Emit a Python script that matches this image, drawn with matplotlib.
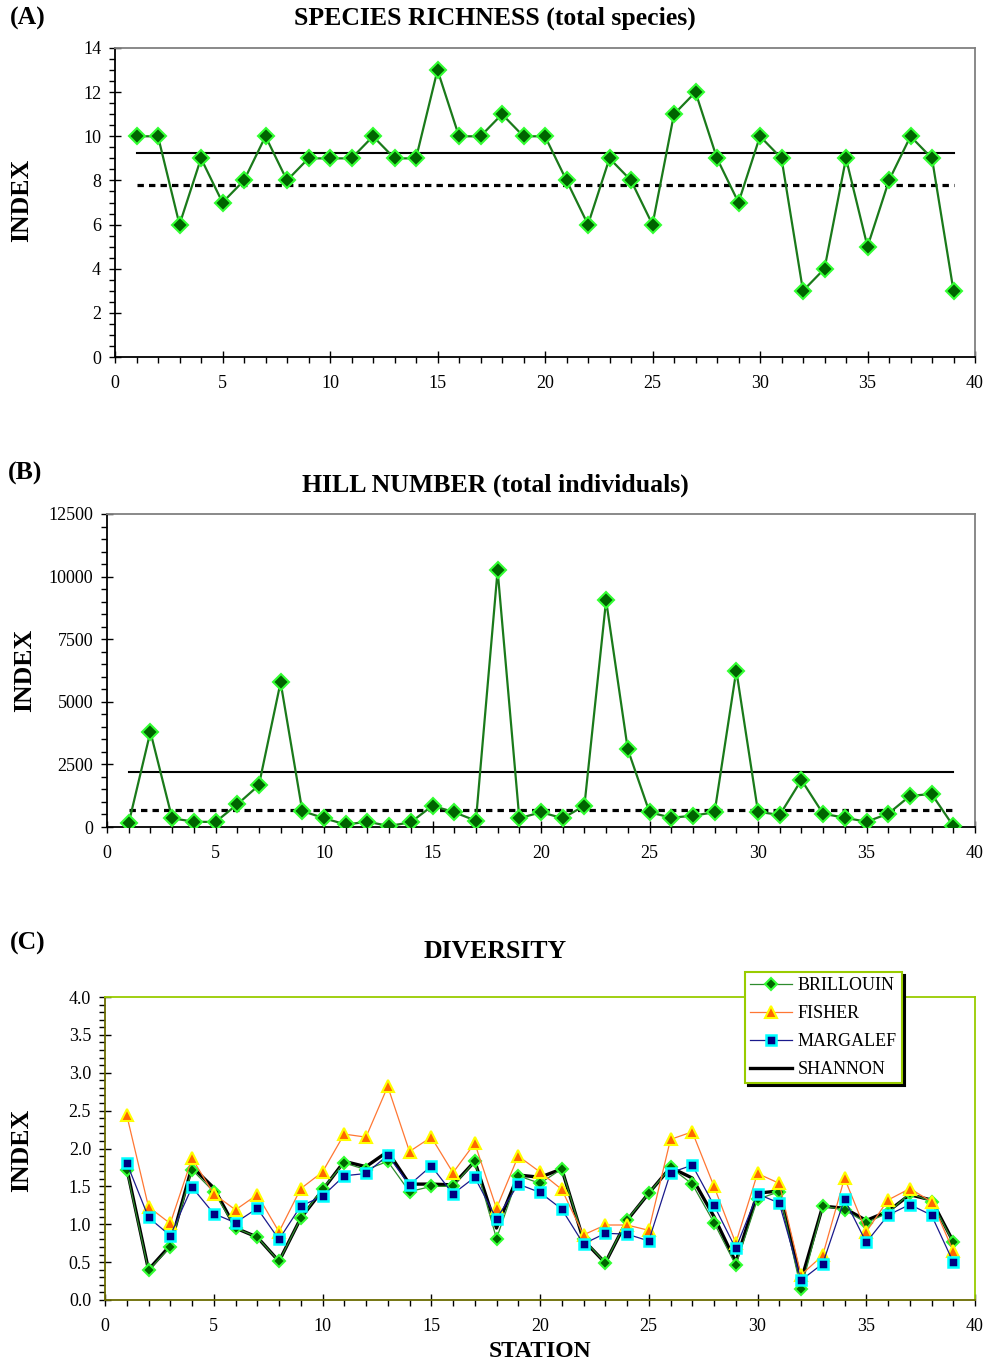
import numpy as np
import matplotlib
matplotlib.use('Agg')
import matplotlib.pyplot as plt
from matplotlib.ticker import MultipleLocator, FormatStrFormatter

plt.rcParams['font.family'] = ['Liberation Serif', 'DejaVu Serif']
plt.rcParams['font.size'] = 13

# 数据
stations = list(range(1, 40))
richness = [10, 10, 6, 9, 7, 8, 10, 8, 9, 9, 9, 10, 9, 9, 13, 10, 10, 11, 10, 10,
            8, 6, 9, 8, 6, 11, 12, 9, 7, 10, 9, 3, 4, 9, 5, 8, 10, 9, 3]
richness_mean = 9.25
richness_ref = 7.8

individuals = [150, 3800, 350, 210, 200, 900, 1670, 5780, 640, 350, 100, 210, 40, 190,
               850, 590, 250, 10250, 350, 590, 350, 850, 9050, 3100, 590, 370, 450, 590,
               6250, 610, 480, 1880, 530, 370, 210, 530, 1240, 1320, 40]
individuals_mean = 2210
individuals_ref = 670

brillouin = [1.71, 0.39, 0.70, 1.72, 1.43, 0.95, 0.83, 0.51, 1.08, 1.47, 1.81, 1.72, 1.83,
             1.43, 1.50, 1.50, 1.83, 0.81, 1.64, 1.54, 1.73, 0.80, 0.49, 1.06, 1.41, 1.75,
             1.53, 1.02, 0.46, 1.33, 1.43, 0.14, 1.24, 1.19, 1.02, 1.15, 1.41, 1.30, 0.76]
fisher = [2.44, 1.23, 1.01, 1.87, 1.40, 1.19, 1.39, 0.90, 1.47, 1.69, 2.19, 2.15, 2.82,
          1.96, 2.15, 1.68, 2.07, 1.21, 1.90, 1.69, 1.46, 0.86, 0.99, 0.99, 0.92, 2.12,
          2.22, 1.50, 0.75, 1.67, 1.54, 0.33, 0.59, 1.61, 0.90, 1.32, 1.47, 1.30, 0.65]
margalef = [1.81, 1.09, 0.85, 1.49, 1.14, 1.02, 1.21, 0.80, 1.24, 1.37, 1.64, 1.67, 1.91,
            1.52, 1.77, 1.40, 1.62, 1.07, 1.53, 1.42, 1.20, 0.74, 0.88, 0.87, 0.78, 1.68,
            1.78, 1.25, 0.68, 1.40, 1.28, 0.26, 0.48, 1.33, 0.76, 1.12, 1.26, 1.12, 0.50]
shannon = [1.74, 0.40, 0.72, 1.76, 1.48, 0.95, 0.83, 0.51, 1.08, 1.45, 1.83, 1.76, 1.96,
           1.53, 1.53, 1.52, 1.83, 0.95, 1.65, 1.62, 1.73, 0.79, 0.49, 1.05, 1.41, 1.75,
           1.61, 1.10, 0.50, 1.41, 1.44, 0.25, 1.24, 1.21, 1.05, 1.17, 1.39, 1.32, 0.77]

fig = plt.figure(figsize=(9.87, 13.66), dpi=100)
W, H = 987, 1366


def add_ax(l, t, r, b):
    return fig.add_axes([l / W, 1 - b / H, (r - l) / W, (b - t) / H])


def style_ax(ax, frame='#808080', axis='black'):
    ax.spines['top'].set_color(frame)
    ax.spines['right'].set_color(frame)
    ax.spines['left'].set_color(axis)
    ax.spines['bottom'].set_color(axis)
    for s in ax.spines.values():
        s.set_linewidth(1.3)
    ax.xaxis.set_major_locator(MultipleLocator(5))
    ax.xaxis.set_minor_locator(MultipleLocator(1))
    ax.tick_params(which='major', direction='inout', length=8, width=1, labelsize=13, pad=9)
    ax.tick_params(axis='y', which='major', pad=6)
    ax.tick_params(which='minor', direction='out', length=4, width=1)
    ax.set_xlim(0, 40)


green_kw = dict(color='#1a7a1a', lw=1.6, marker='D', ms=8.5, mfc='#006400',
                mec='#33ff33', mew=1.5, zorder=3)

# (A)
axA = add_ax(115, 48, 975, 357)
style_ax(axA)
axA.plot(stations, richness, **green_kw)
axA.plot([stations[0], stations[-1]], [richness_mean] * 2, color='black', lw=1.5, zorder=2)
axA.plot([stations[0], stations[-1]], [richness_ref] * 2, color='black', lw=2.3,
         ls=(0, (2, 1.6)), zorder=2)
axA.set_ylim(0, 14)
axA.yaxis.set_major_locator(MultipleLocator(2))
axA.yaxis.set_minor_locator(MultipleLocator(0.5))

# (B)
axB = add_ax(107, 514, 975, 827)
style_ax(axB)
axB.plot(stations, individuals, **green_kw)
axB.plot([stations[0], stations[-1]], [individuals_mean] * 2, color='black', lw=1.5, zorder=2)
axB.plot([stations[0], stations[-1]], [individuals_ref] * 2, color='black', lw=2.3,
         ls=(0, (2, 1.6)), zorder=2)
axB.set_ylim(0, 12500)
axB.yaxis.set_major_locator(MultipleLocator(2500))
axB.yaxis.set_minor_locator(MultipleLocator(500))

# (C)
axC = add_ax(105, 997, 975, 1300)
style_ax(axC, frame='#99cc00', axis='#6b6b00')
axC.plot(stations, shannon, color='black', lw=2.4, label='SHANNON', zorder=2)
axC.plot(stations, brillouin, color='#2e8b2e', lw=0.9, marker='D', ms=6.5, mfc='#006400',
         mec='#33ff33', mew=1.5, label='BRILLOUIN', zorder=3)
axC.plot(stations, fisher, color='#ff7733', lw=0.9, marker='^', ms=9, mfc='#ff6600',
         mec='#ffff00', mew=1.5, label='FISHER', zorder=3)
axC.plot(stations, margalef, color='#1a1a8c', lw=0.9, marker='s', ms=7.5, mfc='#000080',
         mec='#00ffff', mew=1.8, label='MARGALEF', zorder=4)
axC.set_ylim(0, 4)
axC.yaxis.set_major_locator(MultipleLocator(0.5))
axC.yaxis.set_minor_locator(MultipleLocator(0.1))
axC.yaxis.set_major_formatter(FormatStrFormatter('%.1f'))
axC.set_xlabel('STATION', fontsize=17, fontweight='bold', labelpad=4)

handles, labels = axC.get_legend_handles_labels()
order = [1, 2, 3, 0]
leg = axC.legend([handles[i] for i in order], [labels[i] for i in order],
                 loc='upper left', bbox_to_anchor=(745 / W, 1 - 972 / H),
                 bbox_transform=fig.transFigure, fontsize=13, frameon=True,
                 fancybox=False, framealpha=1, borderpad=0.3, labelspacing=0.6,
                 handlelength=2.3, handletextpad=0.3, borderaxespad=0,
                 shadow={'color': 'black', 'alpha': 1})
leg.get_frame().set_edgecolor('#99cc00')
leg.get_frame().set_linewidth(1.5)
leg.set_zorder(10)

# 标题与标签
title_kw = dict(fontsize=18.5, fontweight='bold', ha='center', va='center')
fig.text(495 / W, 1 - 18 / H, 'SPECIES RICHNESS (total species)', **title_kw)
fig.text(495 / W, 1 - 485 / H, 'HILL NUMBER (total individuals)', **title_kw)
fig.text(495 / W, 1 - 951 / H, 'DIVERSITY', **title_kw)

panel_kw = dict(fontsize=18.5, fontweight='bold', ha='left', va='center')
fig.text(10 / W, 1 - 18 / H, '(A)', **panel_kw)
fig.text(8 / W, 1 - 473 / H, '(B)', **panel_kw)
fig.text(10 / W, 1 - 943 / H, '(C)', **panel_kw)

ylab_kw = dict(fontsize=18.5, fontweight='bold', ha='center', va='center', rotation=90)
fig.text(22 / W, 1 - 200 / H, 'INDEX', **ylab_kw)
fig.text(25 / W, 1 - 670 / H, 'INDEX', **ylab_kw)
fig.text(22 / W, 1 - 1150 / H, 'INDEX', **ylab_kw)

fig.savefig('out.png', dpi=100)
